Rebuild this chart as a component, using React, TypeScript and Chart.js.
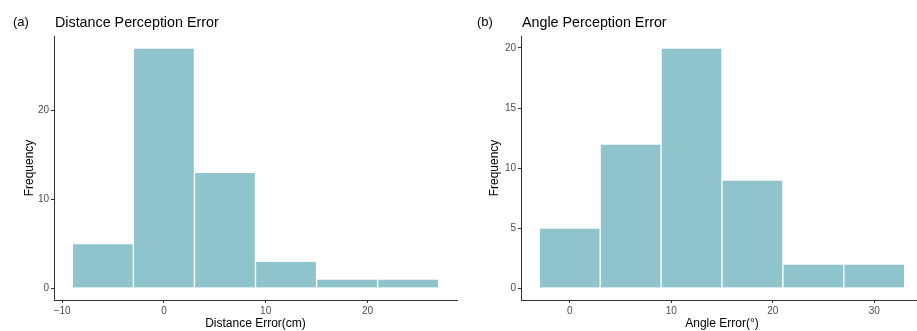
import React, { useEffect, useRef } from "react";
import { Chart, registerables } from "chart.js";

Chart.register(...registerables);

// Panel (a): Distance perception error
const distBinCenters = [-6, 0, 6, 12, 18, 24];
const distCounts = [5, 27, 13, 3, 1, 1];
const distXTicks = [-10, 0, 10, 20];
const distYTicks = [0, 10, 20];

// Panel (b): Angle perception error
const angleBinCenters = [0, 6, 12, 18, 24, 30];
const angleCounts = [5, 12, 20, 9, 2, 2];
const angleXTicks = [0, 10, 20, 30];
const angleYTicks = [0, 5, 10, 15, 20];

const FONT = "'Liberation Sans', Arial, Helvetica, sans-serif";
const BAR_COLOR = "#90C4CC";

type HistProps = {
  left: number;
  width: number;
  yAxisWidth: number;
  centers: number[];
  counts: number[];
  xTicks: number[];
  yTicks: number[];
  xMin: number;
  xMax: number;
  yMin: number;
  yMax: number;
  tag: string;
  tagX: number;
  title: string;
  xTitle: string;
  yTitlePad: number;
};

function Histogram(p: HistProps) {
  const ref = useRef<HTMLCanvasElement | null>(null);
  useEffect(() => {
    if (!ref.current) return;
    const titlePlugin = {
      id: "panelTitle",
      afterDraw(chart: any) {
        const ctx = chart.ctx;
        ctx.save();
        ctx.fillStyle = "#000";
        ctx.textBaseline = "alphabetic";
        ctx.textAlign = "left";
        ctx.font = `13px ${FONT}`;
        ctx.fillText(p.tag, p.tagX, 26);
        ctx.font = `14.3px ${FONT}`;
        ctx.fillText(p.title, chart.chartArea.left + 1, 27);
        ctx.restore();
      },
    };
    const chart = new Chart(ref.current, {
      type: "bar",
      data: {
        datasets: [
          {
            data: p.centers.map((c, i) => ({ x: c, y: p.counts[i] })),
            backgroundColor: BAR_COLOR,
            borderColor: "rgba(255,255,255,0.75)",
            borderWidth: 1,
            borderSkipped: "bottom",
            barPercentage: 1,
            categoryPercentage: 1,
          },
        ],
      },
      options: {
        animation: false,
        responsive: false,
        maintainAspectRatio: false,
        layout: { padding: { top: 36, right: 3, left: 0, bottom: 0 } },
        plugins: {
          legend: { display: false },
          tooltip: { enabled: false },
          title: { display: false },
        },
        scales: {
          x: {
            type: "linear",
            min: p.xMin,
            max: p.xMax,
            offset: false,
            afterBuildTicks: (axis: any) => {
              axis.ticks = p.xTicks.map((v) => ({ value: v }));
            },
            afterFit: (axis: any) => {
              axis.height = 31;
            },
            grid: {
              drawOnChartArea: false,
              drawTicks: true,
              tickLength: 3,
              color: "#333333",
              offset: false,
            },
            border: { display: true, color: "#333333", width: 1 },
            ticks: {
              color: "#4D4D4D",
              font: { family: FONT, size: 10 },
              padding: 2,
              maxRotation: 0,
              callback: (v: any) => (Number(v) < 0 ? "\u2212" + Math.abs(Number(v)) : String(v)),
            },
            title: {
              display: true,
              text: p.xTitle,
              color: "#000",
              font: { family: FONT, size: 12 },
              padding: { top: 0, bottom: 0 },
            },
          },
          y: {
            type: "linear",
            min: p.yMin,
            max: p.yMax,
            afterBuildTicks: (axis: any) => {
              axis.ticks = p.yTicks.map((v) => ({ value: v }));
            },
            afterFit: (axis: any) => {
              axis.width = p.yAxisWidth;
            },
            grid: {
              drawOnChartArea: false,
              drawTicks: true,
              tickLength: 3,
              color: "#333333",
            },
            border: { display: true, color: "#333333", width: 1 },
            ticks: {
              color: "#4D4D4D",
              font: { family: FONT, size: 10 },
              padding: 2,
            },
            title: {
              display: true,
              text: "Frequency",
              color: "#000",
              font: { family: FONT, size: 12 },
              padding: { top: p.yTitlePad, bottom: 0 },
            },
          },
        },
      },
      plugins: [titlePlugin],
    } as any);
    return () => chart.destroy();
  }, []);
  return (
    <canvas
      ref={ref}
      width={p.width}
      height={331}
      style={{ position: "absolute", left: p.left, top: 0, width: p.width, height: 331 }}
    />
  );
}

export default function App() {
  return (
    <div
      style={{
        position: "fixed",
        left: 0,
        top: 0,
        width: 917,
        height: 331,
        overflow: "hidden",
        background: "#fff",
      }}
    >
      <Histogram
        left={0}
        width={460}
        yAxisWidth={54}
        centers={distBinCenters}
        counts={distCounts}
        xTicks={distXTicks}
        yTicks={distYTicks}
        xMin={-10.8}
        xMax={28.8}
        yMin={-1.35}
        yMax={28.35}
        tag="(a)"
        tagX={13}
        title="Distance Perception Error"
        xTitle="Distance Error(cm)"
        yTitlePad={22}
      />
      <Histogram
        left={460}
        width={466}
        yAxisWidth={61}
        centers={angleBinCenters}
        counts={angleCounts}
        xTicks={angleXTicks}
        yTicks={angleYTicks}
        xMin={-4.8}
        xMax={34.8}
        yMin={-1}
        yMax={21}
        tag="(b)"
        tagX={17}
        title="Angle Perception Error"
        xTitle="Angle Error(°)"
        yTitlePad={27}
      />
    </div>
  );
}
